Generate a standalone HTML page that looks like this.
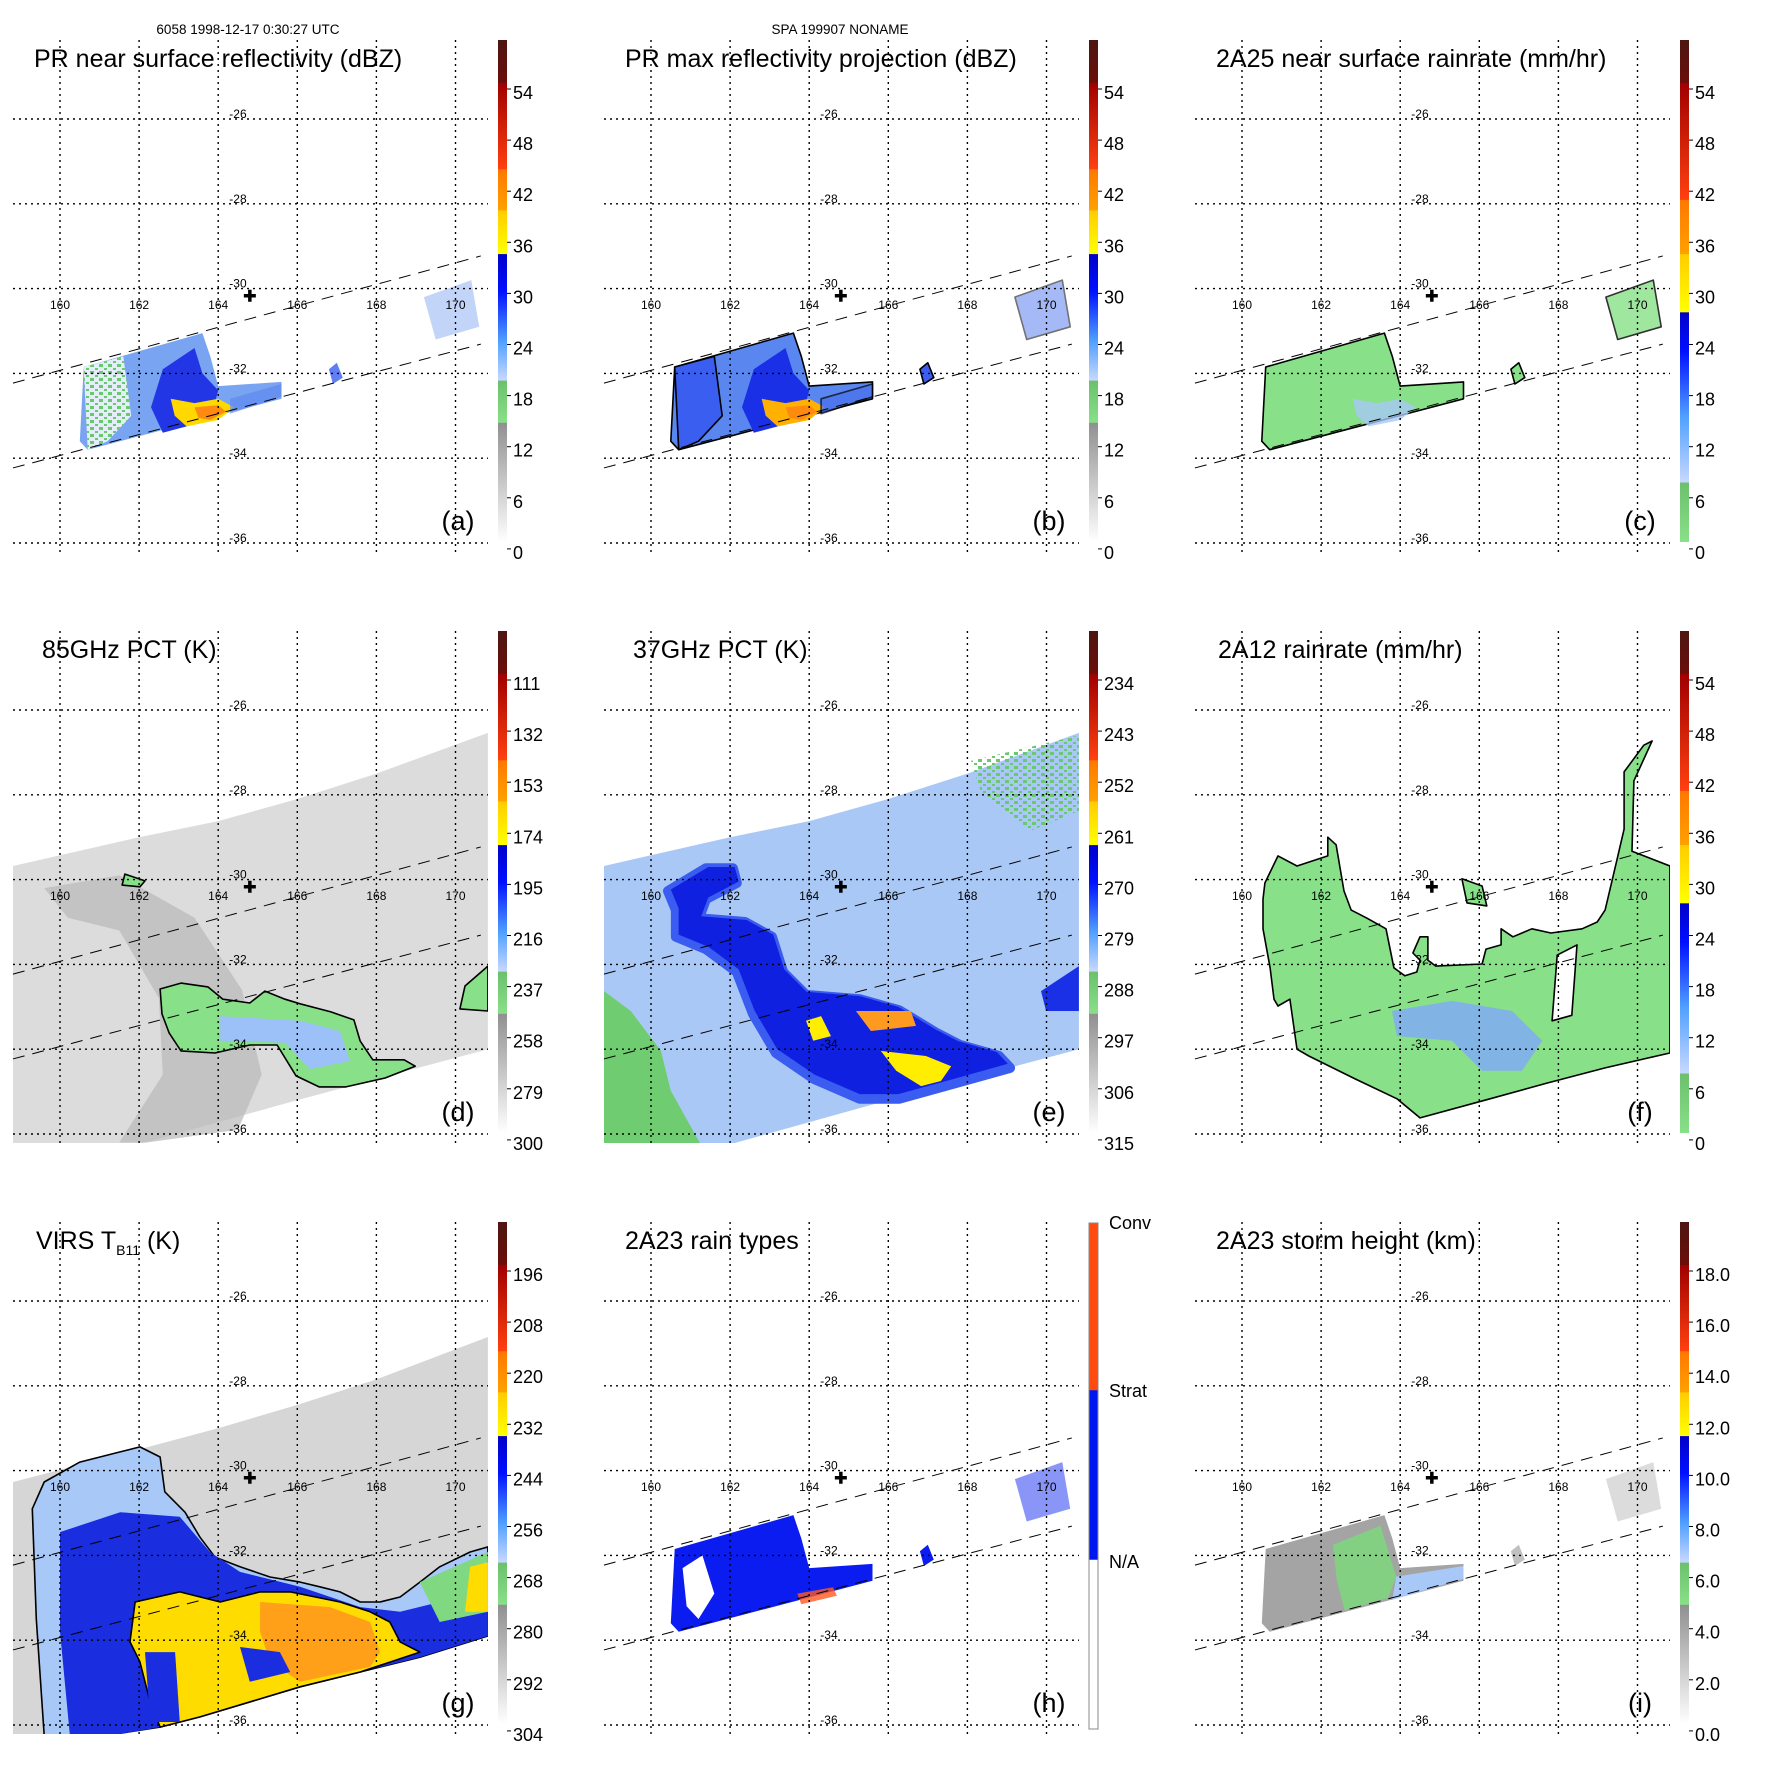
<!DOCTYPE html>
<html><head><meta charset="utf-8">
<style>
html,body{margin:0;padding:0;background:#fff;}
svg{display:block;font-family:"Liberation Sans",Arial,sans-serif;}
</style></head>
<body>
<svg id="fig" width="1771" height="1771" viewBox="0 0 1771 1771" xmlns="http://www.w3.org/2000/svg">
<text x="248" y="34" font-size="13.5" text-anchor="middle">6058 1998-12-17 0:30:27 UTC</text>
<text x="840" y="34" font-size="13.5" text-anchor="middle">SPA 199907 NONAME</text>
</svg>
<script>
// ---- axis data ----
const lonTicks = [160,162,164,166,168,170];
const latTicks = [-26,-28,-30,-32,-34,-36];
const swathTopLine = [[158.81,-32.23],[170.64,-29.23]];
const swathBotLine = [[158.81,-34.23],[170.64,-31.31]];
const centerMark = [164.8,-30.17];

// ---- colorbar tick labels ----
const labelsDbz = ["54","48","42","36","30","24","18","12","6","0"];
const labels85 = ["111","132","153","174","195","216","237","258","279","300"];
const labels37 = ["234","243","252","261","270","279","288","297","306","315"];
const labelsRain = ["54","48","42","36","30","24","18","12","6","0"];
const labelsVirs = ["196","208","220","232","244","256","268","280","292","304"];
const labelsHeight = ["18.0","16.0","14.0","12.0","10.0","8.0","6.0","4.0","2.0","0.0"];
const labelsTypes = ["Conv","Strat","N/A"];

// ---- colour scale stops [offset, colour] ----
const schemeStd = [[0,'#4e1612'],[0.085,'#6a0e0a'],[0.086,'#a00000'],[0.257,'#ff4010'],[0.258,'#ff7800'],[0.339,'#ffa000'],[0.34,'#ffcc00'],[0.426,'#ffff00'],[0.427,'#0000c8'],[0.5,'#0010ff'],[0.6,'#50a0ff'],[0.678,'#c8d8ff'],[0.679,'#6cc06c'],[0.762,'#88e088'],[0.763,'#909090'],[1,'#ffffff']];
const schemeRain = [[0,'#4e1612'],[0.085,'#6a0e0a'],[0.086,'#a00000'],[0.318,'#ff4010'],[0.319,'#ff7800'],[0.426,'#ffa000'],[0.427,'#ffcc00'],[0.542,'#ffff00'],[0.543,'#0000c8'],[0.62,'#0010ff'],[0.75,'#50a0ff'],[0.881,'#c8d8ff'],[0.882,'#6cc06c'],[1,'#88e088']];
const schemeTypes = [[0,'#ff4a10'],[0.33,'#ff4a10'],[0.331,'#0018f0'],[0.665,'#0018f0'],[0.666,'#ffffff'],[1,'#ffffff']];

// ---- swath backgrounds (lon,lat) ----
const tmiSwath = [[158.81,-29.68],[162,-29.0],[164,-28.62],[166,-28.1],[168,-27.5],[170.82,-26.54],[170.82,-34.0],[166,-35.2],[161.97,-36.25],[158.81,-36.25]];
const virsSwath = [[158.81,-30.27],[162,-29.5],[164,-29.0],[166,-28.45],[168,-27.85],[170.82,-26.85],[170.82,-33.9],[166,-35.1],[163.5,-35.8],[161.2,-36.25],[158.81,-36.25]];

// ---- PR rain areas ----
const prMain = [[160.6,-31.85],[163.6,-31.05],[163.8,-31.6],[164.0,-32.3],[165.6,-32.2],[165.6,-32.6],[160.7,-33.8],[160.5,-33.6]];
const prLeftSparse = [[160.6,-31.85],[161.6,-31.6],[161.8,-33.0],[161.2,-33.6],[160.7,-33.8]];
const prDark = [[162.6,-31.9],[163.4,-31.4],[163.6,-32.0],[164.0,-32.4],[163.8,-33.1],[162.6,-33.4],[162.3,-32.8]];
const prYellow = [[162.8,-32.6],[163.4,-32.7],[164.0,-32.6],[164.4,-32.8],[164.0,-33.1],[163.2,-33.25],[162.9,-33.0]];
const prOrange = [[163.4,-32.8],[164.0,-32.75],[164.2,-32.9],[163.8,-33.1],[163.5,-33.05]];
const prTail = [[164.3,-32.6],[165.6,-32.25],[165.6,-32.55],[164.3,-32.95]];
const prCell1 = [[166.8,-31.9],[167.0,-31.75],[167.15,-32.1],[166.9,-32.25]];
const prCell2 = [[169.2,-30.2],[170.4,-29.8],[170.6,-30.9],[169.5,-31.2]];

// ---- 85 GHz ----
const d85Ring = [[159.6,-30.2],[161.5,-29.9],[163.4,-30.9],[164.6,-32.6],[165.1,-34.6],[164.5,-35.9],[162.2,-36.2],[161.5,-36.2],[162.6,-34.6],[162.5,-32.8],[161.5,-31.2],[160.2,-30.9]];
const d85Green = [[162.53,-32.58],[163.06,-32.44],[163.74,-32.53],[164.12,-32.82],[164.8,-32.91],[165.18,-32.63],[165.69,-32.82],[166.07,-32.93],[166.85,-33.12],[167.43,-33.31],[167.59,-33.81],[167.91,-34.25],[168.7,-34.25],[168.98,-34.4],[168.22,-34.68],[167.23,-34.89],[166.55,-34.89],[165.97,-34.63],[165.49,-33.9],[164.8,-33.9],[163.92,-34.09],[163.06,-34.04],[162.76,-33.62],[162.58,-33.17]];
const d85Blue = [[164.05,-33.22],[166.07,-33.33],[167.08,-33.57],[167.33,-34.28],[166.32,-34.47],[165.69,-33.85],[164.05,-33.8]];
const d85East = [[170.24,-32.51],[170.82,-32.04],[170.82,-33.1],[170.11,-33.05]];
const d85Isle = [[161.64,-29.87],[162.15,-30.03],[162.02,-30.17],[161.57,-30.13]];

// ---- 37 GHz ----
const e37Dark = [[160.43,-30.27],[161.39,-29.73],[162.07,-29.73],[162.17,-30.08],[161.39,-30.46],[161.21,-30.91],[162.38,-31.0],[163.06,-31.35],[163.34,-32.18],[163.92,-32.72],[165.28,-32.82],[166.27,-33.08],[167.23,-33.62],[167.81,-33.9],[168.8,-34.16],[169.08,-34.44],[167.71,-34.8],[166.27,-35.17],[165.28,-35.17],[164.12,-34.7],[163.16,-34.09],[162.58,-33.17],[162.17,-32.18],[161.39,-31.64],[160.63,-31.35],[160.63,-30.72]];
const e37East = [[169.86,-32.63],[170.82,-32.04],[170.82,-33.1],[169.99,-33.1]];
const e37Green = [[158.81,-32.63],[159.49,-33.1],[160.25,-34.04],[160.5,-34.98],[161.26,-36.25],[158.81,-36.25]];
const e37GreenNE = [[168.09,-27.2],[170.82,-26.6],[170.82,-28.38],[169.6,-28.85],[168.34,-27.91]];
const e37Yellow1 = [[165.81,-34.04],[166.95,-34.16],[167.59,-34.4],[167.33,-34.75],[166.83,-34.87],[166.2,-34.51]];
const e37Yellow2 = [[163.92,-33.33],[164.3,-33.22],[164.55,-33.69],[164.1,-33.8]];
const e37Yellow3 = [[165.18,-33.1],[166.57,-33.1],[166.7,-33.45],[165.56,-33.57]];

// ---- 2A12 ----
const f12Green = [[160.58,-30.08],[160.91,-29.44],[161.39,-29.68],[162.17,-29.44],[162.17,-29.0],[162.38,-29.18],[162.58,-30.27],[162.76,-30.72],[163.16,-30.91],[163.64,-31.16],[163.84,-32.08],[164.12,-32.27],[164.42,-32.18],[164.5,-31.9],[164.32,-31.73],[164.5,-31.35],[164.7,-31.35],[164.7,-31.9],[164.9,-32.04],[166.07,-31.99],[166.17,-31.64],[166.55,-31.54],[166.55,-31.16],[166.85,-31.35],[167.33,-31.16],[167.81,-31.26],[168.6,-31.16],[168.98,-31.0],[169.18,-30.72],[169.48,-29.54],[169.66,-28.81],[169.66,-27.46],[170.16,-26.83],[170.37,-26.73],[169.91,-27.67],[169.86,-29.33],[170.82,-29.68],[170.82,-34.09],[169.18,-34.44],[167.71,-34.8],[166.27,-35.17],[164.5,-35.62],[163.92,-35.17],[162.86,-34.7],[161.69,-34.16],[161.39,-34.0],[161.21,-32.82],[160.91,-32.98],[160.81,-32.82],[160.71,-32.08],[160.53,-31.16],[160.53,-30.46]];
const f12Hole = [[167.97,-31.78],[168.47,-31.54],[168.34,-33.2],[167.84,-33.33]];
const f12Blue = [[163.79,-33.1],[165.31,-32.86],[166.83,-33.1],[167.59,-33.8],[167.08,-34.51],[166.07,-34.51],[165.31,-33.8],[163.92,-33.69]];
const f12Isle = [[165.56,-29.98],[166.07,-30.15],[166.19,-30.62],[165.69,-30.55]];

// ---- VIRS ----
const gEdge = [[159.3,-30.9],[159.6,-30.27],[160.5,-29.8],[161.52,-29.56],[162.02,-29.44],[162.53,-29.68],[162.65,-30.5],[163.16,-30.98],[163.54,-31.57],[163.92,-32.04],[164.55,-32.27],[165.31,-32.51],[166.07,-32.63],[166.57,-32.74],[167.08,-32.86],[167.59,-33.1],[168.09,-33.1],[168.6,-32.98],[169.1,-32.63],[169.6,-32.27],[170.37,-31.92],[170.82,-31.8],[170.82,-33.9],[169.1,-34.4],[167.59,-34.75],[166.07,-35.1],[163.54,-35.81],[162.53,-36.05],[161.14,-36.25],[159.6,-36.25],[159.4,-33.5]];
const gBlue = [[160,-31.45],[161.52,-30.98],[163.03,-31.09],[163.79,-31.92],[164.55,-32.39],[166.07,-32.74],[167.59,-33.22],[168.6,-33.33],[169.6,-33.1],[170.82,-32.86],[170.82,-33.9],[169.1,-34.4],[167.59,-34.75],[166.07,-35.1],[163.54,-35.81],[162.53,-36.05],[161.26,-36.25],[160.25,-36.25],[160,-33.8]];
const gGreenE = [[169.1,-32.63],[170.82,-31.92],[170.82,-33.33],[169.6,-33.57]];
const gYellow = [[161.9,-33.1],[163.03,-32.86],[164.05,-33.1],[165.06,-32.86],[165.82,-32.86],[167.08,-33.1],[167.84,-33.33],[168.34,-33.57],[168.6,-34.04],[169.1,-34.28],[167.59,-34.75],[166.07,-35.1],[163.54,-35.81],[162.53,-36.05],[162.28,-35.46],[162.02,-34.51],[161.77,-34.04]];
const gOrange = [[165.06,-33.1],[166.83,-33.22],[167.84,-33.57],[168.09,-34.28],[167.84,-34.63],[166.07,-34.98],[165.31,-34.51],[165.06,-33.8]];
const gHole1 = [[162.15,-34.28],[162.91,-34.28],[163.03,-35.93],[162.28,-35.93]];
const gHole2 = [[164.55,-34.16],[165.56,-34.28],[165.82,-34.75],[164.8,-34.98]];
const gYellowE = [[170.37,-32.27],[170.82,-32.16],[170.82,-33.33],[170.24,-33.33]];

// ---- 2A23 ----
const hLeftHole = [[160.8,-32.3],[161.3,-32.0],[161.6,-32.9],[161.2,-33.5],[160.9,-33.2]];
const hConv = [[163.7,-32.9],[164.6,-32.75],[164.7,-32.95],[163.8,-33.15]];
const iGreen = [[162.3,-31.75],[163.5,-31.3],[163.9,-32.5],[163.7,-33.0],[162.6,-33.3],[162.4,-32.6]];
const iBlue = [[163.9,-32.5],[165.6,-32.25],[165.6,-32.55],[163.8,-33.05]];

const X = lon => 60 + (lon - 160) * 39.55;
const Y = lat => 119 + (-26 - lat) * 42.4;
const NS = 'http://www.w3.org/2000/svg';
const svg = document.getElementById('fig');
const defs = document.createElementNS(NS, 'defs');
svg.appendChild(defs);

function el(tag, parent, attrs) {
  const e = document.createElementNS(NS, tag);
  for (const k in attrs) e.setAttribute(k, attrs[k]);
  parent.appendChild(e);
  return e;
}
function pts(poly) { return poly.map(p => X(p[0]).toFixed(1) + ',' + Y(p[1]).toFixed(1)).join(' '); }

function addPoly(g, poly, fill, name, stroke, opacity) {
  const p = el('polygon', g, { points: pts(poly), fill: fill });
  if (stroke) { p.setAttribute('stroke', stroke); p.setAttribute('stroke-width', '1.6'); p.setAttribute('stroke-linejoin', 'round'); }
  if (opacity) p.setAttribute('opacity', opacity);
  
  
  return p;
}

const pat = el('pattern', defs, { id: 'speck', width: 9, height: 7, patternUnits: 'userSpaceOnUse' });
el('rect', pat, { x: 0, y: 0, width: 4, height: 3, fill: '#6cc870' });
el('rect', pat, { x: 5, y: 4, width: 3, height: 2, fill: '#6cc870' });

const panels = [
  { key: 'a', col: 0, row: 0, title: 'PR near surface reflectivity (dBZ)', tx: 34, labels: labelsDbz, scheme: schemeStd, draw: g => {
      addPoly(g, prMain, '#78a4f2', 'rain-area');
      addPoly(g, prLeftSparse, '#e4eef8', 'sparse-rain-area');
      addPoly(g, prLeftSparse, 'url(#speck)', 'green-speckle');
      addPoly(g, prDark, '#2236e6', 'heavy-rain-core');
      addPoly(g, prYellow, '#ffd800', 'yellow-core');
      addPoly(g, prOrange, '#ff8a10', 'orange-core');
      addPoly(g, prTail, '#5a86f0', 'rain-tail', null, '0.6');
      addPoly(g, prCell1, '#3a5ef0', 'rain-cell', null, '0.8');
      addPoly(g, prCell2, '#7aa0f2', 'rain-cell', null, '0.45');
  }},
  { key: 'b', col: 1, row: 0, title: 'PR max reflectivity projection (dBZ)', tx: 34, labels: labelsDbz, scheme: schemeStd, draw: g => {
      addPoly(g, prMain, '#5a86f0', 'rain-area', '#000');
      addPoly(g, prLeftSparse, '#3a5ef0', 'left-rain-area', '#000');
      addPoly(g, prDark, '#1a30e6', 'heavy-rain-core');
      addPoly(g, prYellow, '#ffb000', 'yellow-core');
      addPoly(g, prOrange, '#ff8a10', 'orange-core');
      addPoly(g, prTail, '#4a72ee', 'rain-tail', '#000', '0.7');
      addPoly(g, prCell1, '#3a5ef0', 'rain-cell', '#000');
      addPoly(g, prCell2, '#5a80f0', 'rain-cell', '#000', '0.55');
  }},
  { key: 'c', col: 2, row: 0, title: '2A25 near surface rainrate (mm/hr)', tx: 34, labels: labelsRain, scheme: schemeRain, draw: g => {
      addPoly(g, prMain, '#88e088', 'rain-area', '#000');
      addPoly(g, prYellow, '#a8c8f8', 'moderate-rain', null, '0.8');
      addPoly(g, prCell1, '#88e088', 'rain-cell', '#000');
      addPoly(g, prCell2, '#88e088', 'rain-cell', '#000', '0.8');
  }},
  { key: 'd', col: 0, row: 1, title: '85GHz PCT (K)', tx: 42, labels: labels85, scheme: schemeStd, draw: g => {
      addPoly(g, tmiSwath, '#dcdcdc', 'tmi-swath');
      addPoly(g, d85Ring, '#b8b8b8', 'cold-arc', null, '0.7');
      addPoly(g, d85Green, '#88e088', 'scattering-area', '#000');
      addPoly(g, d85Blue, '#9cc0f8', 'strong-scattering');
      addPoly(g, d85East, '#88e088', 'east-cell', '#000');
      addPoly(g, d85Isle, '#88e088', 'small-cell', '#000');
  }},
  { key: 'e', col: 1, row: 1, title: '37GHz PCT (K)', tx: 42, labels: labels37, scheme: schemeStd, draw: g => {
      addPoly(g, tmiSwath, '#aac8f6', 'tmi-swath');
      const halo = addPoly(g, e37Dark, '#3a5cf0', 'rain-band-halo', '#3a5cf0');
      halo.setAttribute('stroke-width', '10');
      addPoly(g, e37Dark, '#1020e0', 'rain-band').setAttribute('transform', 'translate(4,3) scale(0.985)');
      addPoly(g, e37East, '#1a30e6', 'east-band');
      addPoly(g, e37Green, '#70cc70', 'warm-area');
      addPoly(g, e37GreenNE, 'url(#speck)', 'green-speckle');
      addPoly(g, e37Yellow1, '#ffee00', 'yellow-area');
      addPoly(g, e37Yellow2, '#ffee00', 'yellow-area');
      addPoly(g, e37Yellow3, '#ff9a20', 'orange-area');
  }},
  { key: 'f', col: 2, row: 1, title: '2A12 rainrate (mm/hr)', tx: 36, labels: labelsRain, scheme: schemeRain, draw: g => {
      addPoly(g, f12Green, '#88e088', 'rain-area', '#000');
      addPoly(g, f12Hole, '#ffffff', 'no-rain-hole', '#000');
      addPoly(g, f12Blue, '#80acf6', 'moderate-rain', null, '0.85');
      addPoly(g, f12Isle, '#88e088', 'rain-island', '#000');
  }},
  { key: 'g', col: 0, row: 2, title: 'VIRS', tx: 36, labels: labelsVirs, scheme: schemeStd, draw: g => {
      addPoly(g, virsSwath, '#d6d6d6', 'virs-swath');
      addPoly(g, gEdge, '#a8c8f8', 'cloud-edge', '#000');
      addPoly(g, gBlue, '#1a2ee0', 'cold-cloud');
      addPoly(g, gGreenE, '#80d880', 'east-cloud-edge');
      addPoly(g, gYellow, '#ffdc00', 'very-cold-cloud', '#000');
      addPoly(g, gOrange, '#ffa018', 'coldest-cloud');
      addPoly(g, gHole1, '#1a2ee0', 'cloud-gap');
      addPoly(g, gHole2, '#1a2ee0', 'cloud-gap');
      addPoly(g, gYellowE, '#ffdc00', 'east-cold-cloud');
  }},
  { key: 'h', col: 1, row: 2, title: '2A23 rain types', tx: 34, labels: labelsTypes, scheme: schemeTypes, draw: g => {
      addPoly(g, prMain, '#0a1cf0', 'stratiform-area');
      addPoly(g, hLeftHole, '#ffffff', 'no-rain-gap');
      addPoly(g, hConv, '#ff5a20', 'convective-area', null, '0.8');
      addPoly(g, prCell1, '#0a1cf0', 'rain-cell');
      addPoly(g, prCell2, '#2a40f0', 'rain-cell', null, '0.55');
  }},
  { key: 'i', col: 2, row: 2, title: '2A23 storm height (km)', tx: 34, labels: labelsHeight, scheme: schemeStd, draw: g => {
      addPoly(g, prMain, '#a4a4a4', 'storm-height-area');
      addPoly(g, iGreen, '#7ed87e', 'taller-storm', null, '0.85');
      addPoly(g, iBlue, '#a8c8f8', 'tallest-storm');
      addPoly(g, prCell1, '#c0c0c0', 'rain-cell');
      addPoly(g, prCell2, '#c4c4c4', 'rain-cell', null, '0.6');
  }}
];

panels.forEach(P => {
  const g = el('g', svg, { transform: `translate(${P.col * 591},${P.row * 591})` });
  
  
  const cp = el('clipPath', defs, { id: 'clip' + P.key });
  el('rect', cp, { x: 13, y: 40, width: 475, height: 512 });
  const map = el('g', g, { 'clip-path': `url(#clip${P.key})` });
  
  
  P.draw(map);

  lonTicks.forEach(lon => {
    const l = el('line', g, { x1: X(lon), x2: X(lon), y1: 40, y2: 552, stroke: '#000', 'stroke-width': 1.4, 'stroke-dasharray': '2,4' });
    
    
    const t = el('text', g, { x: X(lon), y: 309, 'font-size': 12, 'text-anchor': 'middle' });
    t.textContent = lon;
    
    
  });
  latTicks.forEach(lat => {
    const l = el('line', g, { x1: 13, x2: 488, y1: Y(lat), y2: Y(lat), stroke: '#000', 'stroke-width': 1.4, 'stroke-dasharray': '2,4' });
    
    
    const t = el('text', g, { x: X(164.5), y: Y(lat) - 1, 'font-size': 12, 'text-anchor': 'middle' });
    t.textContent = lat;
    
    
  });
  [swathTopLine, swathBotLine].forEach(s => {
    const l = el('line', g, { x1: X(s[0][0]), y1: Y(s[0][1]), x2: X(s[1][0]), y2: Y(s[1][1]), stroke: '#000', 'stroke-width': 1, 'stroke-dasharray': '12,8' });
    
    
  });
  const cx = X(centerMark[0]), cy = Y(centerMark[1]);
  const cross = el('path', g, { d: `M${cx-6},${cy}H${cx+6}M${cx},${cy-6}V${cy+6}`, stroke: '#000', 'stroke-width': 3.5 });
  
  

  const t = el('text', g, { x: P.tx, y: 67, 'font-size': 25 });
  if (P.key === 'g') {
    const a = el('tspan', t, {}); a.textContent = 'VIRS T';
    const b = el('tspan', t, { 'font-size': 14, dy: 6 }); b.textContent = 'B11';
    const c = el('tspan', t, { dy: -6 }); c.textContent = ' (K)';
  } else t.textContent = P.title;
  
  

  const lt = el('text', g, { x: 458, y: 530, 'font-size': 27, 'text-anchor': 'middle' });
  lt.textContent = '(' + P.key + ')';
  
  

  const gr = el('linearGradient', defs, { id: 'cb' + P.key, x1: 0, y1: 0, x2: 0, y2: 1 });
  P.scheme.forEach(s => el('stop', gr, { offset: s[0], 'stop-color': s[1] }));
  const bar = el('rect', g, { x: 498, y: 40, width: 9, height: 502, fill: `url(#cb${P.key})` });
  if (P.key === 'h') { bar.setAttribute('stroke', '#888'); bar.setAttribute('stroke-width', '1'); bar.setAttribute('y', 41); bar.setAttribute('height', 506); }
  
  
  if (P.key === 'h') {
    const ys = [47, 215, 386];
    P.labels.forEach((s, i) => {
      const tx = el('text', g, { x: 518, y: ys[i], 'font-size': 18 });
      tx.textContent = s;
      
      
    });
  } else {
    P.labels.forEach((s, i) => {
      const yy = 93 + i * 51.1;
      const tk = el('line', g, { x1: 507, x2: 511, y1: yy - 4, y2: yy - 4, stroke: '#000', 'stroke-width': 1 });
      
      
      const tx = el('text', g, { x: 513, y: yy + 6, 'font-size': 18 });
      tx.textContent = s;
      
      
    });
  }
});
</script>
</body></html>
